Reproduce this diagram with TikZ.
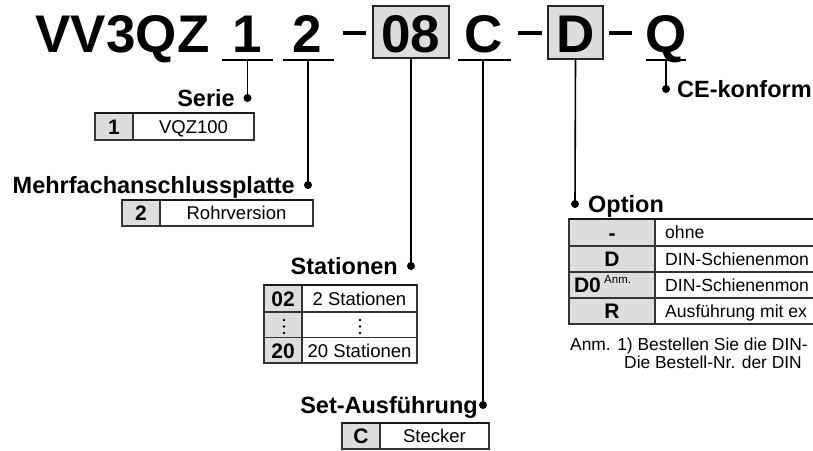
\documentclass[tikz,border=0pt]{standalone}
\usepackage{fontspec}
\setmainfont{Liberation Sans}
\definecolor{cellgray}{HTML}{DDDDDD}
\begin{document}
\begin{tikzpicture}[x=1pt,y=-1pt,
  hdr/.style={font=\fontsize{53}{53}\selectfont\bfseries, inner sep=0pt, anchor=base},
  lbl/.style={font=\fontsize{23.5}{23.5}\selectfont\bfseries, inner sep=0pt},
  cell/.style={font=\fontsize{18.5}{18.5}\selectfont, inner sep=0pt, text height=13.3pt, text depth=0pt},
  ocell/.style={font=\fontsize{17.6}{17.6}\selectfont, inner sep=0pt, text height=12.7pt, text depth=0pt, anchor=west},
  kcell/.style={font=\fontsize{21}{21}\selectfont\bfseries, inner sep=0pt, text height=15pt, text depth=0pt},
  note/.style={font=\fontsize{17.4}{17.4}\selectfont, inner sep=0pt, anchor=base west},
  conn/.style={line width=1.6pt, black},
  uline/.style={line width=1.6pt, black},
  dashline/.style={line width=3.6pt, black},
  dotc/.style={circle, fill=black, inner sep=0pt, minimum size=8pt},
  hbox/.style={draw=black!85, line width=2pt, fill=cellgray, inner sep=0pt},
  tab/.style={draw=black!80, line width=1.1pt},
  tabtop/.style={draw=black!90, line width=2.2pt},
  vdot/.style={circle, fill=black, inner sep=0pt, minimum size=2.6pt},
]
\useasboundingbox (0,0) rectangle (813,450);
\clip (0,0) rectangle (813,450);

% ---------- header ----------
\node[hbox, minimum width=76pt, minimum height=52pt] (b08) at (411,32) {};
\node[hbox, minimum width=55pt, minimum height=53pt] (bD) at (575.5,32.5) {};
\node[hdr] (vv) at (122.5,52) {VV3QZ};
\node[hdr] (h1) at (247,52) {1};
\node[hdr] (h2) at (307.5,52) {2};
\node[hdr] (h08) at (411,52) {08};
\node[hdr] (hc) at (484,52) {C};
\node[hdr] (hd) at (575.5,52) {D};
\node[hdr] (hq) at (666,52) {Q};

\draw[dashline] (343,33) -- (366,33);
\draw[dashline] (518,33) -- (542,33);
\draw[dashline] (609,33) -- (632,33);

\draw[uline] (222,60) -- (273,60);
\draw[uline] (283,60) -- (334,60);
\draw[uline] (458,60) -- (511,60);
\draw[uline] (646,60) -- (686,60);

% ---------- connectors ----------
\coordinate (u1) at (247.5,60);
\coordinate (u2) at (308,60);
\coordinate (uc) at (483,60);
\coordinate (uq) at (666,60);
\node[dotc] (d1) at (247.5,98) {};
\node[dotc] (d2) at (308,185) {};
\node[dotc] (d3) at (411,266) {};
\node[dotc] (d4) at (483,405) {};
\node[dotc] (d5) at (575,204) {};
\node[dotc] (d6) at (666,89) {};
\draw[conn] (u1) -- (d1.center);
\draw[conn] (u2) -- (d2.center);
\draw[conn] (b08.south) -- (d3.center);
\draw[conn] (uc) -- (d4.center);
\draw[conn] (bD.south) -- (d5.center);
\draw[conn] (uq) -- (d6.center);

% ---------- labels ----------
\node[lbl, anchor=base east] (lserie) at (235,106) {Serie};
\node[lbl, anchor=base east] (lmehr) at (295,193) {Mehrfachanschlussplatte};
\node[lbl, anchor=base east] (lstat) at (398,274.5) {Stationen};
\node[lbl, anchor=base east] (lset) at (478,413) {Set-Ausführung};
\node[lbl, anchor=base west] (lopt) at (588,212.5) {Option};
\node[lbl, anchor=base west] (lce) at (677,97.5) {CE-konform};

% ---------- Serie table ----------
\fill[cellgray] (95,113) rectangle (133,140);
\draw[tab] (95,113) rectangle (254,140);
\draw[tab] (133,113) -- (133,140);
\draw[tabtop] (95,113) -- (254,113);
\node[kcell] (s1k) at (114,126.5) {1};
\node[cell] (s1v) at (193.5,126.5) {VQZ100};

% ---------- Mehrfach table ----------
\fill[cellgray] (122,200) rectangle (160,226);
\draw[tab] (122,200) rectangle (313,226);
\draw[tab] (160,200) -- (160,226);
\draw[tabtop] (122,200) -- (313,200);
\node[kcell] (m2k) at (141,213) {2};
\node[cell] (m2v) at (236.5,213) {Rohrversion};

% ---------- Stationen table ----------
\fill[cellgray] (264,285) rectangle (302,363);
\draw[tab] (264,285) rectangle (417,363);
\draw[tab] (302,285) -- (302,363);
\draw[tab] (264,312) -- (417,312);
\draw[tab] (264,337.5) -- (417,337.5);
\draw[tabtop] (264,285) -- (417,285);
\node[kcell] (st1k) at (283,298.5) {02};
\node[cell] (st1v) at (359.5,298.5) {2 Stationen};
\node[vdot] at (284,320) {};
\node[vdot] at (284,326.5) {};
\node[vdot] at (284,333) {};
\node[vdot] at (360,320) {};
\node[vdot] at (360,326.5) {};
\node[vdot] at (360,333) {};
\node[kcell] (st3k) at (283,350.5) {20};
\node[cell] (st3v) at (359.5,350.5) {20 Stationen};

% ---------- Set table ----------
\fill[cellgray] (342,423) rectangle (380,449);
\draw[tab] (342,423) rectangle (489,449);
\draw[tab] (380,423) -- (380,449);
\draw[tabtop] (342,423) -- (489,423);
\node[kcell] (ck) at (361,436) {C};
\node[cell] (cv) at (434.5,436) {Stecker};

% ---------- Option table ----------
\fill[cellgray] (569,219) rectangle (655,324);
\draw[tab] (569,219) rectangle (830,324);
\draw[tab] (655,219) -- (655,324);
\draw[tab] (569,246) -- (830,246);
\draw[tab] (569,272) -- (830,272);
\draw[tab] (569,298) -- (830,298);
\draw[tabtop] (569,219) -- (830,219);
\node[kcell] (o1k) at (612,232.5) {-};
\node[ocell] (o1v) at (665,232.5) {ohne};
\node[kcell] (o2k) at (612,259) {D};
\node[ocell] (o2v) at (665,259) {DIN-Schienenmon};
\node[kcell] (o3k) at (587.5,285) {D0};
\node[font=\fontsize{11.5}{11.5}\selectfont, inner sep=0pt, anchor=base west] (o3s) at (604,283) {Anm.};
\node[ocell] (o3v) at (665,285) {DIN-Schienenmon};
\node[kcell] (o4k) at (612,311) {R};
\node[ocell] (o4v) at (665,311) {Ausführung mit ex};

% ---------- notes ----------
\node[note] (n1) at (570,350) {Anm. 1) Bestellen Sie die DIN-};
\node[note] (n2) at (624,368) {Die Bestell-Nr. der DIN};
\end{tikzpicture}
\end{document}
